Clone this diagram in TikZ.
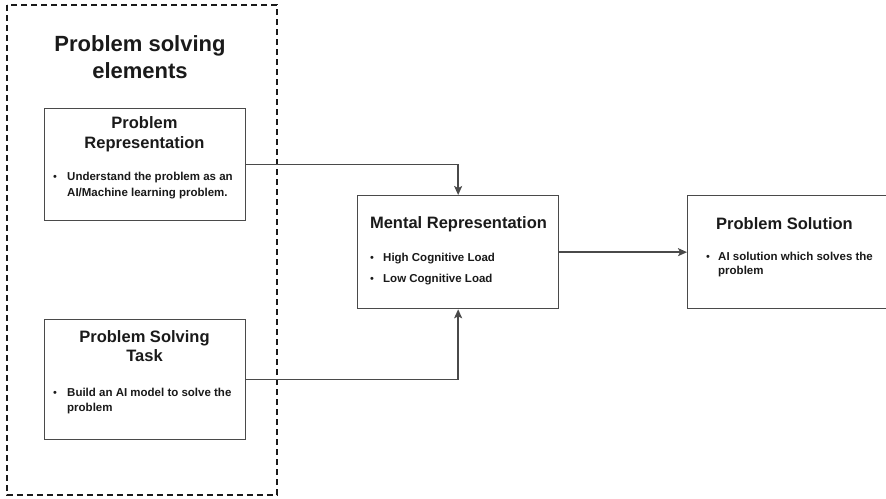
\documentclass[tikz,border=0pt]{standalone}
\usepackage{fontspec}
\setmainfont{Liberation Sans}
\usetikzlibrary{arrows.meta}
\definecolor{ink}{HTML}{1A1A1A}
\definecolor{edge}{HTML}{4A4A4A}
\tikzset{
  box/.style={draw=edge, line width=1.3pt, fill=white, inner sep=0pt, anchor=north west},
  group/.style={draw=ink, line width=2pt, dash pattern=on 6pt off 4pt},
  title/.style={text=ink, font=\bfseries\fontsize{16.5}{20}\selectfont, align=center, inner sep=0pt},
  item/.style={text=ink, font=\bfseries\fontsize{11.5}{16}\selectfont, align=left, anchor=west, inner sep=0pt},
  dot/.style={text=ink, font=\fontsize{11}{11}\selectfont, inner sep=0pt},
  link/.style={draw=edge, line width=1.5pt, -{Stealth[length=9pt,width=8pt,inset=2pt]}}
}
\begin{document}
\begin{tikzpicture}[x=1pt, y=-1pt]
\useasboundingbox (0,0) rectangle (886,498);
\clip (0,0) rectangle (886,498);

% dashed group of problem solving elements
\draw[group] (7,5) rectangle (277,495);
\node[title, font=\bfseries\fontsize{22}{27}\selectfont] (grouptitle) at (140,57) {Problem solving\\elements};

% problem representation
\node[box, minimum width=201pt, minimum height=112pt] (pr) at (44,108) {};
\node[title] (prtitle) at (144.5,134) {Problem\\Representation};
\node[dot] (prdot) at (55,178) {\textbullet};
\node[item] (prtext) at (67,186) {Understand the problem as an\\AI/Machine learning problem.};

% problem solving task
\node[box, minimum width=201pt, minimum height=120pt] (pst) at (44,319) {};
\node[title, font=\bfseries\fontsize{16.5}{19}\selectfont] (psttitle) at (144.5,346) {Problem Solving\\Task};
\node[dot] (pstdot) at (55,394) {\textbullet};
\node[item, font=\bfseries\fontsize{11.5}{15}\selectfont] (psttext) at (67,401.5) {Build an AI model to solve the\\problem};

% mental representation
\node[box, minimum width=201pt, minimum height=113pt] (mr) at (357,195) {};
\node[title] (mrtitle) at (458.5,224) {Mental Representation};
\node[dot] (mrdot1) at (372,259) {\textbullet};
\node[item] (mrtext1) at (383,259) {High Cognitive Load};
\node[dot] (mrdot2) at (372,280) {\textbullet};
\node[item] (mrtext2) at (383,280) {Low Cognitive Load};

% problem solution (runs past the right edge)
\node[box, minimum width=210pt, minimum height=113pt] (ps) at (687,195) {};
\node[title] (pstitle) at (784.5,224) {Problem Solution};
\node[dot] (psdot) at (708,258) {\textbullet};
\node[item, font=\bfseries\fontsize{11.5}{14}\selectfont] (pstext) at (718,265) {AI solution which solves the\\problem};

% connectors
\draw[link] (pr.east) -| (mr.north);
\draw[link] (pst.east) -| (mr.south);
\draw[link] (mr.east) -- (ps.west);
\end{tikzpicture}
\end{document}
